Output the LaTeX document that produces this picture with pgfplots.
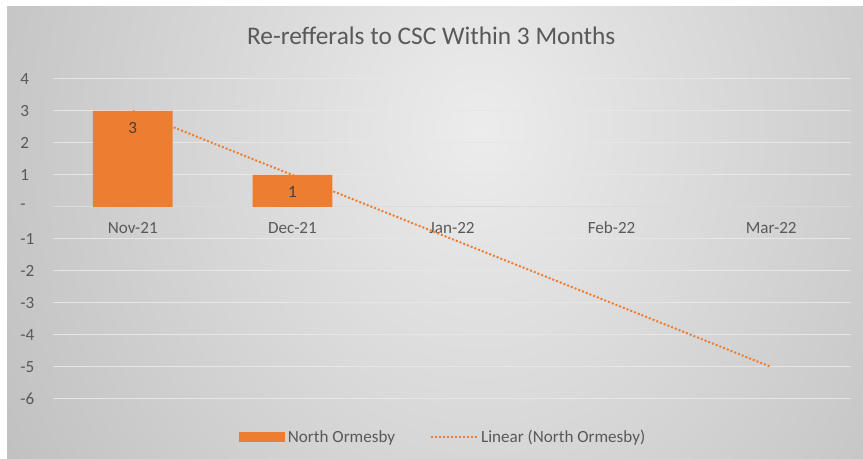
\documentclass[border=0pt]{standalone}
\usepackage{pgfplots}
\pgfplotsset{compat=1.18}
\usepackage{fontspec}
\setmainfont{Carlito}
\definecolor{barorange}{HTML}{ED7D31}
\definecolor{txtgray}{HTML}{595959}
\definecolor{lblgray}{HTML}{404040}
\definecolor{gridc}{HTML}{E6E6E6}
\definecolor{zeroc}{HTML}{DADADA}
\definecolor{bgin}{HTML}{ECECEC}
\definecolor{bgout}{HTML}{A0A0A0}
\begin{document}
\begin{tikzpicture}
\useasboundingbox (0,0) rectangle (647.25pt,344.25pt);
\fill[white] (0,0) rectangle (647.25pt,344.25pt);
\begin{scope}
\clip (5.25pt,0) rectangle (647.25pt,339pt);
\shade[inner color=bgin, outer color=bgout] (360pt,246.75pt) ellipse (720pt and 860pt);
\end{scope}
\begin{axis}[
  at={(39.75pt,45pt)}, anchor=south west,
  scale only axis, width=598.5pt, height=240pt,
  xmin=-0.5, xmax=4.5, ymin=-6, ymax=4,
  axis x line*=middle, axis y line*=left,
  separate axis lines,
  x axis line style={draw=zeroc, line width=0.75pt},
  y axis line style={draw=none},
  hide obscured x ticks=false, hide obscured y ticks=false,
  major tick length=0pt,
  xtick={0,1,2,3,4},
  xticklabels={Nov-21,Dec-21,Jan-22,Feb-22,Mar-22},
  ytick={-6,-5,-4,-3,-2,-1,0,1,2,3,4},
  yticklabels={-6,-5,-4,-3,-2,-1,-,1,2,3,4},
  ymajorgrids,
  grid style={draw=gridc, line width=0.75pt},
  tick label style={font=\fontsize{12.8}{15}\selectfont, text=txtgray},
  xticklabel style={yshift=-8pt, text height=8.5pt, text depth=2.5pt},
  yticklabel style={anchor=west, xshift=-28pt},
  title={Re-refferals to CSC Within 3 Months},
  title style={at={(0.474,1)}, anchor=center, yshift=26.25pt, font=\fontsize{19}{23}\selectfont, text=txtgray},
  legend style={at={(0.489,-0.119)}, anchor=center, draw=none, fill=none,
    legend columns=2, font=\fontsize{12.8}{15}\selectfont, text=txtgray,
    /tikz/every even column/.append style={column sep=24pt},
    legend cell align=left},
  clip=false,
]
\addplot[ybar, bar width=0.5, fill=barorange, draw=none,
  nodes near coords,
  every node near coord/.append style={anchor=center, yshift=-13pt, font=\fontsize{12.8}{15}\selectfont, text=lblgray, /pgf/number format/assume math mode=true},
  legend image code/.code={\fill[barorange] (0pt,-3.75pt) rectangle (35pt,3.75pt);}]
  coordinates {(0,3) (1,1)};
\addlegendentry{North Ormesby}
\addplot[barorange, line width=1.5pt, dash pattern=on 1.5pt off 1.5pt, mark=none,
  legend image code/.code={\draw[barorange, line width=1.5pt, dash pattern=on 1.5pt off 1.5pt] (0pt,0pt) -- (35pt,0pt);}]
  coordinates {(0,3) (4,-5)};
\addlegendentry{Linear (North Ormesby)}
\end{axis}
\end{tikzpicture}
\end{document}
